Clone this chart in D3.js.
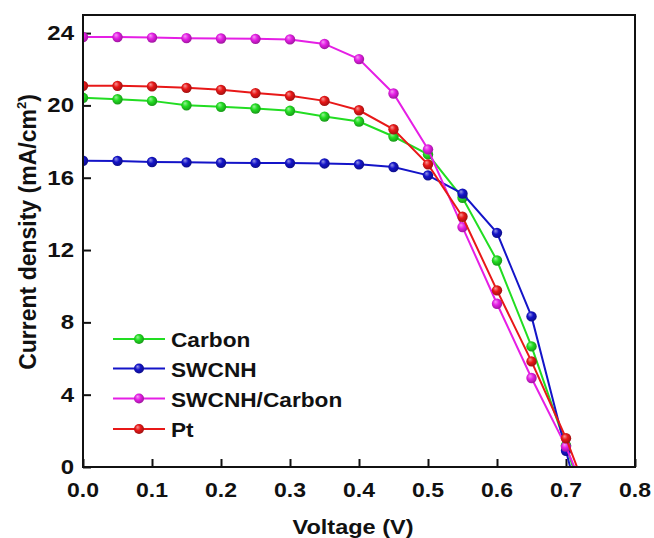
<!DOCTYPE html>
<html>
<head>
<meta charset="utf-8">
<script src="https://cdn.jsdelivr.net/npm/d3@7"></script>
<style>
  html, body { margin: 0; padding: 0; background: #fff; }
  svg { display: block; }
  text { font-family: Arial, "Liberation Sans", Helvetica, sans-serif; font-weight: bold; fill: #111; }
</style>
</head>
<body>
<svg id="chart" width="654" height="538"></svg>
<script>
// J–V curves of dye-sensitized cells with different counter electrodes
const voltage = [0, 0.05, 0.10, 0.15, 0.20, 0.25, 0.30, 0.35, 0.40, 0.45, 0.50, 0.55, 0.60, 0.65, 0.70];

const seriesNames = ["Carbon", "SWCNH", "SWCNH/Carbon", "Pt"];
const seriesColors = ["#22dd22", "#1414c8", "#e51fe5", "#e81818"];

const carbonJ      = [20.42, 20.34, 20.25, 20.01, 19.92, 19.83, 19.70, 19.38, 19.11, 18.28, 17.29, 14.89, 11.42, 6.67, 1.20];
const swcnhJ       = [16.94, 16.93, 16.87, 16.85, 16.83, 16.82, 16.81, 16.79, 16.74, 16.59, 16.13, 15.12, 12.95, 8.33, 0.90];
const swcnhCarbonJ = [23.78, 23.78, 23.75, 23.72, 23.70, 23.68, 23.65, 23.40, 22.56, 20.66, 17.57, 13.27, 9.03, 4.92, 1.13];
const ptJ          = [21.08, 21.08, 21.05, 20.97, 20.86, 20.68, 20.53, 20.25, 19.73, 18.68, 16.74, 13.84, 9.77, 5.84, 1.59];

// open-circuit voltage where each curve reaches zero current
const vocValues = [0.710, 0.706, 0.712, 0.716];

const xTicks = [0, 0.1, 0.2, 0.3, 0.4, 0.5, 0.6, 0.7, 0.8];
const yTicks = [0, 4, 8, 12, 16, 20, 24];

const seriesJ = [carbonJ, swcnhJ, swcnhCarbonJ, ptJ];
// drawing order (later on top)
const drawOrder = [0, 1, 2, 3];

const svg = d3.select("#chart");
const plot = { left: 83, right: 635, top: 15, bottom: 467 };

const x = d3.scaleLinear().domain([0, 0.8]).range([plot.left, plot.right]);
const y = d3.scaleLinear().domain([0, 25]).range([plot.bottom, plot.top]);

// shaded ball markers
const defs = svg.append("defs");
seriesColors.forEach((c, i) => {
  const g = defs.append("radialGradient")
    .attr("id", "ball" + i)
    .attr("cx", "45%").attr("cy", "45%").attr("r", "60%")
    .attr("fx", "35%").attr("fy", "30%");
  g.append("stop").attr("offset", "0%").attr("stop-color", d3.interpolateRgb(c, "#ffffff")(0.55));
  g.append("stop").attr("offset", "45%").attr("stop-color", c);
  g.append("stop").attr("offset", "100%").attr("stop-color", d3.interpolateRgb(c, "#000000")(0.35));
});
defs.append("clipPath").attr("id", "plotClip")
  .append("rect")
  .attr("x", plot.left).attr("y", plot.top)
  .attr("width", plot.right - plot.left).attr("height", plot.bottom - plot.top);

// text helper with a slight horizontal stretch
function label(parent, str, px, py, size, anchor, sx) {
  return parent.append("text")
    .attr("transform", `translate(${px},${py}) scale(${sx},1)`)
    .attr("text-anchor", anchor)
    .style("font-size", size + "px")
    .text(str);
}

// axes with inward ticks
const xAxis = d3.axisBottom(x).tickValues(xTicks).tickSizeInner(-8).tickSizeOuter(0).tickFormat("");
const yAxis = d3.axisLeft(y).tickValues(yTicks).tickSizeInner(-8).tickSizeOuter(0).tickFormat("");

svg.append("g").attr("transform", `translate(0,${plot.bottom})`).call(xAxis)
  .call(g => g.select(".domain").remove())
  .call(g => g.selectAll("line").attr("stroke", "#111").attr("stroke-width", 2));
svg.append("g").attr("transform", `translate(${plot.left},0)`).call(yAxis)
  .call(g => g.select(".domain").remove())
  .call(g => g.selectAll("line").attr("stroke", "#111").attr("stroke-width", 2));

const tickLabels = svg.append("g");
xTicks.forEach(v => label(tickLabels, d3.format(".1f")(v), x(v), 497, 20, "middle", 1.15));
yTicks.forEach(v => label(tickLabels, String(v), 74, y(v) + 7, 20, "end", 1.2));

// curves
const line = d3.line().x(d => x(d[0])).y(d => y(d[1]));
const curves = svg.append("g").attr("clip-path", "url(#plotClip)");

drawOrder.forEach(i => {
  const pts = voltage.map((v, k) => [v, seriesJ[i][k]]);
  const g = curves.append("g");
  g.append("path")
    .datum(pts.concat([[vocValues[i], 0]]))
    .attr("fill", "none")
    .attr("stroke", seriesColors[i])
    .attr("stroke-width", 2)
    .attr("d", line);
  g.selectAll("circle")
    .data(pts)
    .join("circle")
    .attr("cx", d => x(d[0]))
    .attr("cy", d => y(d[1]))
    .attr("r", 5.2)
    .attr("fill", `url(#ball${i})`);
});

// frame
svg.append("rect")
  .attr("x", plot.left).attr("y", plot.top)
  .attr("width", plot.right - plot.left).attr("height", plot.bottom - plot.top)
  .attr("fill", "none").attr("stroke", "#111").attr("stroke-width", 2);

// legend
const legend = svg.append("g");
const legendY = [339, 368.5, 398.5, 429];
seriesNames.forEach((name, i) => {
  const ly = legendY[i];
  legend.append("line")
    .attr("x1", 113).attr("x2", 165).attr("y1", ly).attr("y2", ly)
    .attr("stroke", seriesColors[i]).attr("stroke-width", 2);
  legend.append("circle")
    .attr("cx", 139).attr("cy", ly).attr("r", 5)
    .attr("fill", `url(#ball${i})`);
  label(legend, name, 171, ly + 8, 21, "start", 1.08);
});

// axis titles
label(svg, "Voltage (V)", 353, 534, 21, "middle", 1.12);

const yTitle = svg.append("text")
  .attr("transform", "translate(36,232) rotate(-90)")
  .attr("text-anchor", "middle")
  .style("font-size", "23px");
yTitle.append("tspan").text("Current density (mA/cm");
yTitle.append("tspan").attr("dy", -10).style("font-size", "13px").text("2");
yTitle.append("tspan").attr("dy", 10).text(")");
</script>
</body>
</html>
